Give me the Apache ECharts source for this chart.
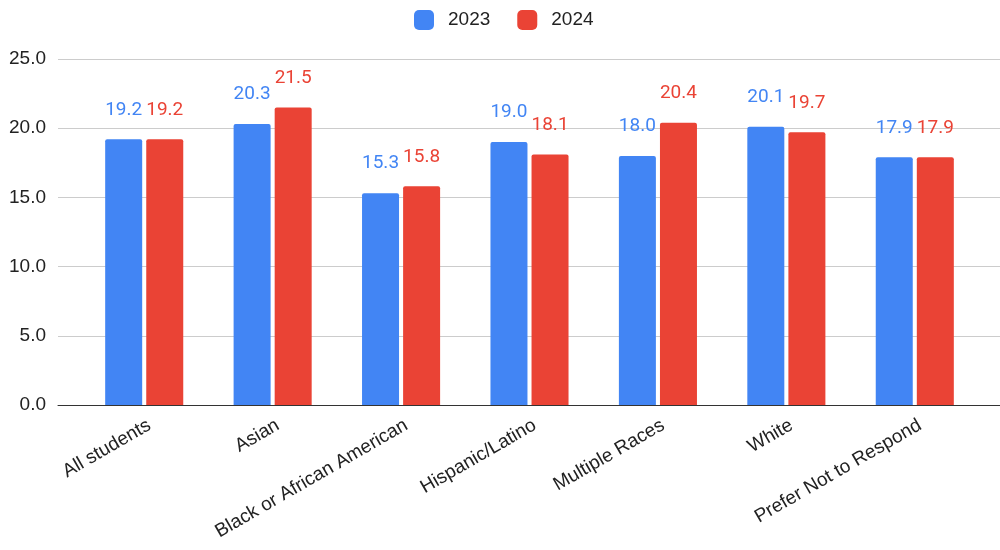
<!DOCTYPE html>
<html>
<head>
<meta charset="utf-8">
<script src="https://cdn.jsdelivr.net/npm/echarts@6/dist/echarts.min.js"></script>
<style>
  html, body { margin: 0; padding: 0; background: #fff; }
  #chart { width: 1000px; height: 550px; }
</style>
</head>
<body>
<div id="chart"></div>
<script>
// Groups along the horizontal axis
const categories = [
  'All students', 'Asian', 'Black or African American', 'Hispanic/Latino',
  'Multiple Races', 'White', 'Prefer Not to Respond'
];
const seriesNames = ['2023', '2024'];
const values2023 = [19.2, 20.3, 15.3, 19.0, 18.0, 20.1, 17.9];
const values2024 = [19.2, 21.5, 15.8, 18.1, 20.4, 19.7, 17.9];
const yTicks = [0, 5, 10, 15, 20, 25];

const BLUE = '#4285F4';
const RED = '#EA4335';
const AXIS_FONT = '"Liberation Sans", Arial, sans-serif';
const VALUE_FONT = 'Roboto, "Liberation Sans", sans-serif';

const yMin = yTicks[0];
const yMax = yTicks[yTicks.length - 1];
const yStep = yTicks[1] - yTicks[0];

function barSeries(name, data, color) {
  return {
    name: name,
    type: 'bar',
    xAxisIndex: 0,
    yAxisIndex: 0,
    data: data,
    barWidth: 37,
    barGap: '11%',
    itemStyle: { color: color, borderRadius: [2, 2, 0, 0] },
    label: {
      show: true,
      position: 'top',
      distance: 20,
      color: color,
      fontFamily: VALUE_FONT,
      fontSize: 19,
      formatter: p => p.value.toFixed(1)
    },
    z: 3
  };
}

const chart = echarts.init(document.getElementById('chart'), null, { renderer: 'canvas' });
chart.setOption({
  animation: false,
  backgroundColor: '#ffffff',
  legend: {
    data: seriesNames,
    top: 5,
    left: 409,
    icon: 'roundRect',
    itemWidth: 20,
    itemHeight: 20,
    itemGap: 27,
    textStyle: {
      fontFamily: AXIS_FONT,
      fontSize: 19,
      color: '#222',
      padding: [0, 0, 0, 9]
    }
  },
  grid: [
    // plot area holding the bars
    { left: 80, right: 21, top: 59, bottom: 145, containLabel: false },
    // wider frame carrying the value axis, gridlines and baseline
    { left: 58, right: 0, top: 59, bottom: 145, containLabel: false }
  ],
  xAxis: [
    {
      type: 'category',
      gridIndex: 0,
      data: categories,
      axisLine: { show: false },
      axisTick: { show: false },
      axisLabel: {
        rotate: 30,
        margin: 22,
        fontFamily: AXIS_FONT,
        fontSize: 19,
        color: '#222',
        interval: 0,
        padding: [0, -6, 0, 0]
      }
    },
    {
      type: 'value',
      gridIndex: 1,
      min: 0,
      max: 1,
      axisLine: { show: true, lineStyle: { color: '#333', width: 1 } },
      axisTick: { show: false },
      axisLabel: { show: false },
      splitLine: { show: false }
    }
  ],
  yAxis: [
    {
      type: 'value',
      gridIndex: 0,
      min: yMin,
      max: yMax,
      interval: yStep,
      axisLine: { show: false },
      axisTick: { show: false },
      axisLabel: { show: false },
      splitLine: { show: false }
    },
    {
      type: 'value',
      gridIndex: 1,
      min: yMin,
      max: yMax,
      interval: yStep,
      axisLine: { show: false },
      axisTick: { show: false },
      axisLabel: {
        margin: 12,
        fontFamily: AXIS_FONT,
        fontSize: 19,
        color: '#222',
        formatter: v => v.toFixed(1)
      },
      splitLine: { show: true, lineStyle: { color: '#cccccc', width: 1 } }
    }
  ],
  series: [
    barSeries(seriesNames[0], values2023, BLUE),
    barSeries(seriesNames[1], values2024, RED)
  ]
});
</script>
</body>
</html>
